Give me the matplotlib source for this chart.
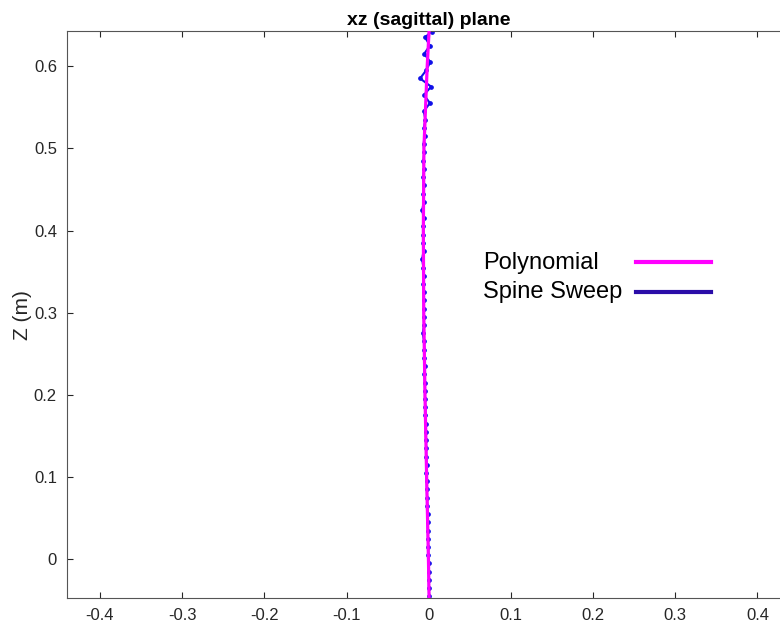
import matplotlib
matplotlib.use("Agg")
import matplotlib.pyplot as plt
from matplotlib.lines import Line2D

plt.rcParams['font.family'] = ['Liberation Sans', 'DejaVu Sans']

# ============================================================
# DATA
# ============================================================
poly_z = [-0.047, 0.0, 0.1, 0.2, 0.3, 0.4, 0.5, 0.55, 0.6, 0.643]
poly_x = [0.0005, -0.0003, -0.0025, -0.0045, -0.006, -0.0065, -0.0058, -0.0038, -0.0018, 0.0005]

spine_z = [-0.045, -0.035, -0.025, -0.015, -0.005, 0.005, 0.015, 0.025, 0.035, 0.045,
           0.055, 0.065, 0.075, 0.085, 0.095, 0.105, 0.115, 0.125, 0.135, 0.145,
           0.155, 0.165, 0.175, 0.185, 0.195, 0.205, 0.215, 0.225, 0.235, 0.245,
           0.255, 0.265, 0.275, 0.285, 0.295, 0.305, 0.315, 0.325, 0.335, 0.345,
           0.355, 0.365, 0.375, 0.385, 0.395, 0.405, 0.415, 0.425, 0.435, 0.445,
           0.455, 0.465, 0.475, 0.485, 0.495, 0.505, 0.515, 0.525, 0.535, 0.545,
           0.555, 0.565, 0.575, 0.585, 0.595, 0.605, 0.615, 0.625, 0.635, 0.642]
spine_x = [0.0005, 0.0002, 0.0002, -0.0001, -0.0001, -0.0005, -0.0005, -0.0009, -0.0010, -0.0014,
           -0.0014, -0.0016, -0.0020, -0.0022, -0.0023, -0.0027, -0.0026, -0.0031, -0.0031, -0.0033,
           -0.0036, -0.0037, -0.0041, -0.0040, -0.0046, -0.0045, -0.0047, -0.0051, -0.0048, -0.0053,
           -0.0053, -0.0056, -0.0072, -0.0057, -0.0060, -0.0060, -0.0062, -0.0060, -0.0066, -0.0062,
           -0.0064, -0.0080, -0.0063, -0.0066, -0.0064, -0.0067, -0.0062, -0.0078, -0.0061, -0.0066,
           -0.0058, -0.0068, -0.0056, -0.0064, -0.0054, -0.0062, -0.0050, -0.0058, -0.0040, -0.0060,
           0.0015, -0.0058, 0.0030, -0.0105, -0.0030, 0.0020, -0.0055, 0.0015, -0.0045, 0.0035]

x_ticks = [-0.4, -0.3, -0.2, -0.1, 0, 0.1, 0.2, 0.3, 0.4]
x_labels = ["-0.4", "-0.3", "-0.2", "-0.1", "0", "0.1", "0.2", "0.3", "0.4"]
z_ticks = [0, 0.1, 0.2, 0.3, 0.4, 0.5, 0.6]
z_labels = ["0", "0.1", "0.2", "0.3", "0.4", "0.5", "0.6"]

series_names = ["Polynomial", "Spine Sweep"]
series_colors = ['#ff00ff', '#2a0ca8']

# ============================================================
# FIGURE
# ============================================================
fig = plt.figure(figsize=(7.8, 6.34), dpi=100)
ax = fig.add_axes([0.0855, 0.0563, 0.9282, 0.8948])

ax.plot(spine_x, spine_z, color='#1010e8', linewidth=1.5,
        marker='o', markersize=2.4, zorder=2)
ax.plot(poly_x, poly_z, color='#ff00ff', linewidth=2.3, zorder=3)

ax.set_xlim(-0.4405, 0.4405)
ax.set_ylim(-0.0474, 0.6427)

ax.set_xticks(x_ticks)
ax.set_xticklabels(x_labels)
ax.set_yticks(z_ticks)
ax.set_yticklabels(z_labels)

ax.tick_params(direction='in', length=4, width=0.8, colors='#262626',
               labelsize=12, top=True, right=True, pad=7)
for sp in ax.spines.values():
    sp.set_color('#555555')
    sp.set_linewidth(0.8)

ax.set_ylabel("Z (m)", fontsize=15, color='#262626', labelpad=1)
ax.set_title("xz (sagittal) plane", fontsize=14, fontweight='bold', pad=4)

# ============================================================
# LEGEND (text left-aligned, line on the right, no box)
# ============================================================
W, H = 780.0, 634.0
text_base = [269, 298]
line_y = [262, 291.5]
for name, col, tb, ly in zip(series_names, series_colors, text_base, line_y):
    fig.text(483 / W, 1 - tb / H, name, fontsize=17, va='baseline', ha='left')
    fig.add_artist(Line2D([636 / W, 711 / W], [1 - ly / H, 1 - ly / H],
                          transform=fig.transFigure, color=col, linewidth=3))

fig.savefig("out.png", dpi=100)
